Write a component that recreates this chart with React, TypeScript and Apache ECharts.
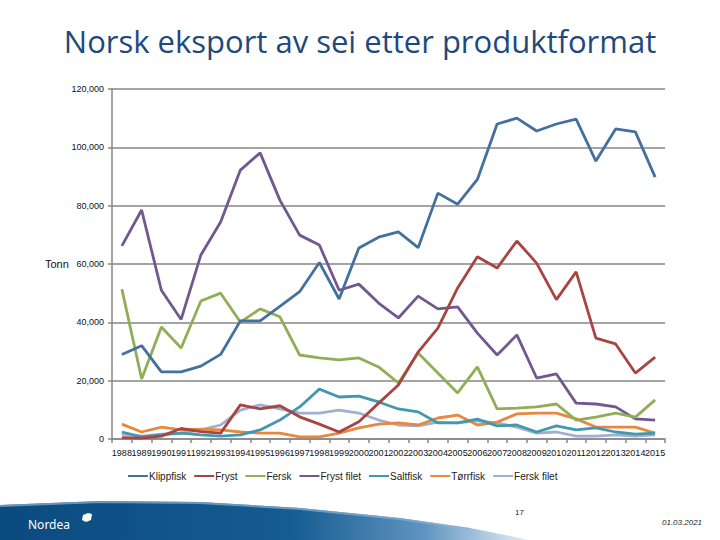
import React, { useEffect, useRef } from "react";
import * as echarts from "echarts";

const years = ["1988","1989","1990","1991","1992","1993","1994","1995","1996","1997","1998","1999","2000","2001","2002","2003","2004","2005","2006","2007","2008","2009","2010","2011","2012","2013","2014","2015"];

const klippfisk = [29000,32000,23000,23000,25000,29000,40500,40500,45500,50500,60500,48000,65500,69200,71000,65600,84300,80500,89000,108000,110000,105600,108000,109700,95300,106300,105300,89800];
const fryst = [500,300,1000,3600,2500,2000,11700,10300,11400,7600,5100,2400,5900,12300,18500,29800,38000,51800,62500,58600,67900,60300,47800,57300,34600,32600,22600,28100];
const fersk = [51400,20600,38400,31200,47300,50000,40100,44600,41900,28800,27800,27100,27800,24700,19200,29500,22600,15800,24700,10300,10600,11000,12000,6500,7500,8900,7500,13400];
const frystFilet = [66200,78500,51000,41000,63100,74400,92200,98100,81900,69900,66500,51000,53100,46600,41500,49000,44600,45300,36300,28800,35700,20900,22300,12300,12000,11000,6900,6500];
const saltfisk = [2400,700,1400,2000,1400,1000,1400,3100,6500,11000,17100,14400,14700,12700,10300,9300,5500,5500,6800,4500,4800,2400,4500,3100,3800,2400,1700,2000];
const torrfisk = [5100,2400,4100,3100,3400,3100,2400,2000,2000,700,700,2000,3800,5100,5500,4800,7200,8200,4800,5800,8600,8900,8900,6900,4100,4100,4100,2000];
const ferskFilet = [1700,1000,1700,2000,3100,4800,9900,11700,10300,8900,8900,9900,8900,6500,4800,4500,5800,5500,6200,5500,4100,2000,2400,1000,1000,1400,1000,1400];

const seriesNames = ["Klippfisk","Fryst","Fersk","Fryst filet","Saltfisk","Tørrfisk","Fersk filet"];
const seriesData = [klippfisk, fryst, fersk, frystFilet, saltfisk, torrfisk, ferskFilet];
const seriesColors = ["#44709F","#A84442","#91AE56","#71588F","#4198AF","#E8883E","#A0B0D0"];

export default function App() {
  const ref = useRef<HTMLDivElement>(null);
  useEffect(() => {
    if (!ref.current) return;
    const chart = echarts.init(ref.current, null, { renderer: "svg" });
    const font = "'Liberation Sans', Arial, sans-serif";
    chart.setOption({
      animation: false,
      backgroundColor: "#ffffff",
      textStyle: { fontFamily: font },
      title: {
        text: "Norsk eksport av sei etter produktformat",
        left: "center",
        top: 20,
        textStyle: { fontFamily: "'Open Sans', sans-serif", fontSize: 31, fontWeight: "normal", color: "#1F497D" },
      },
      grid: { left: 112, right: 55, top: 89, bottom: 101, containLabel: false },
      legend: {
        data: seriesNames,
        top: 466,
        left: 123,
        icon: "rect",
        itemWidth: 20,
        itemHeight: 2,
        itemGap: 8,
        textStyle: { fontSize: 10, color: "#222", fontFamily: font, padding: [0, 0, 0, -4] },
      },
      xAxis: {
        type: "category",
        data: years,
        boundaryGap: true,
        axisLine: { show: true, lineStyle: { color: "#868686", width: 1.5 } },
        axisTick: { show: true, length: 4, lineStyle: { color: "#868686", width: 1.5 } },
        axisLabel: { interval: 0, fontSize: 9, color: "#111", margin: 9, fontFamily: font },
        splitLine: { show: false },
      },
      yAxis: {
        type: "value",
        min: 0,
        max: 120000,
        interval: 20000,
        axisLine: { show: true, lineStyle: { color: "#868686", width: 1.5 } },
        axisTick: { show: true, length: 4, lineStyle: { color: "#868686", width: 1.5 } },
        axisLabel: {
          fontSize: 9,
          color: "#111",
          margin: 8,
          fontFamily: font,
          formatter: (v: number) => v.toLocaleString("en-US"),
        },
        splitLine: { show: true, lineStyle: { color: "#868686", width: 1.5 } },
      },
      series: seriesNames.map((name, i) => ({
        name,
        type: "line",
        data: seriesData[i],
        symbol: "none",
        smooth: false,
        lineStyle: { width: 2.8, color: seriesColors[i] },
        itemStyle: { color: seriesColors[i] },
        z: 10 - i,
      })),
      graphic: [
        {
          type: "text",
          left: 45,
          top: 258,
          style: { text: "Tonn", fontSize: 11, fill: "#111", fontFamily: font },
        },
        {
          type: "polygon",
          shape: {
            points: [[0, 505], [100, 501], [200, 502], [300, 508], [400, 518], [470, 528], [530, 540], [0, 540]],
          },
          style: {
            fill: new echarts.graphic.LinearGradient(0, 0, 1, 0, [
              { offset: 0, color: "#0B4A7F" },
              { offset: 0.55, color: "#155C91" },
              { offset: 0.8, color: "#5F94C0" },
              { offset: 1, color: "#E8F0F7" },
            ]),
          },
          silent: true,
        },
        {
          type: "polyline",
          shape: { points: [[0, 506], [100, 502], [200, 503], [300, 509], [400, 519], [470, 529]] },
          style: { stroke: "rgba(140,180,215,0.7)", lineWidth: 2, fill: "none" },
          silent: true,
        },
        {
          type: "text",
          left: 28,
          top: 518,
          style: { text: "Nordea", fontSize: 12, fill: "#ffffff", fontFamily: "'Noto Sans', sans-serif" },
        },
        {
          type: "polygon",
          shape: { points: [[83, 515], [88, 513], [92, 514], [91, 520], [86, 522], [82, 520]] },
          style: { fill: "#ffffff" },
          silent: true,
        },
        {
          type: "text",
          left: 515,
          top: 508,
          style: { text: "17", fontSize: 8, fill: "#222", fontFamily: font },
        },
        {
          type: "text",
          left: 662,
          top: 518,
          style: { text: "01.03.2021", fontSize: 8, fill: "#222", fontStyle: "italic", fontFamily: font },
        },
      ],
    });
    return () => chart.dispose();
  }, []);
  return <div ref={ref} style={{ position: "fixed", left: 0, top: 0, width: 720, height: 540 }} />;
}
